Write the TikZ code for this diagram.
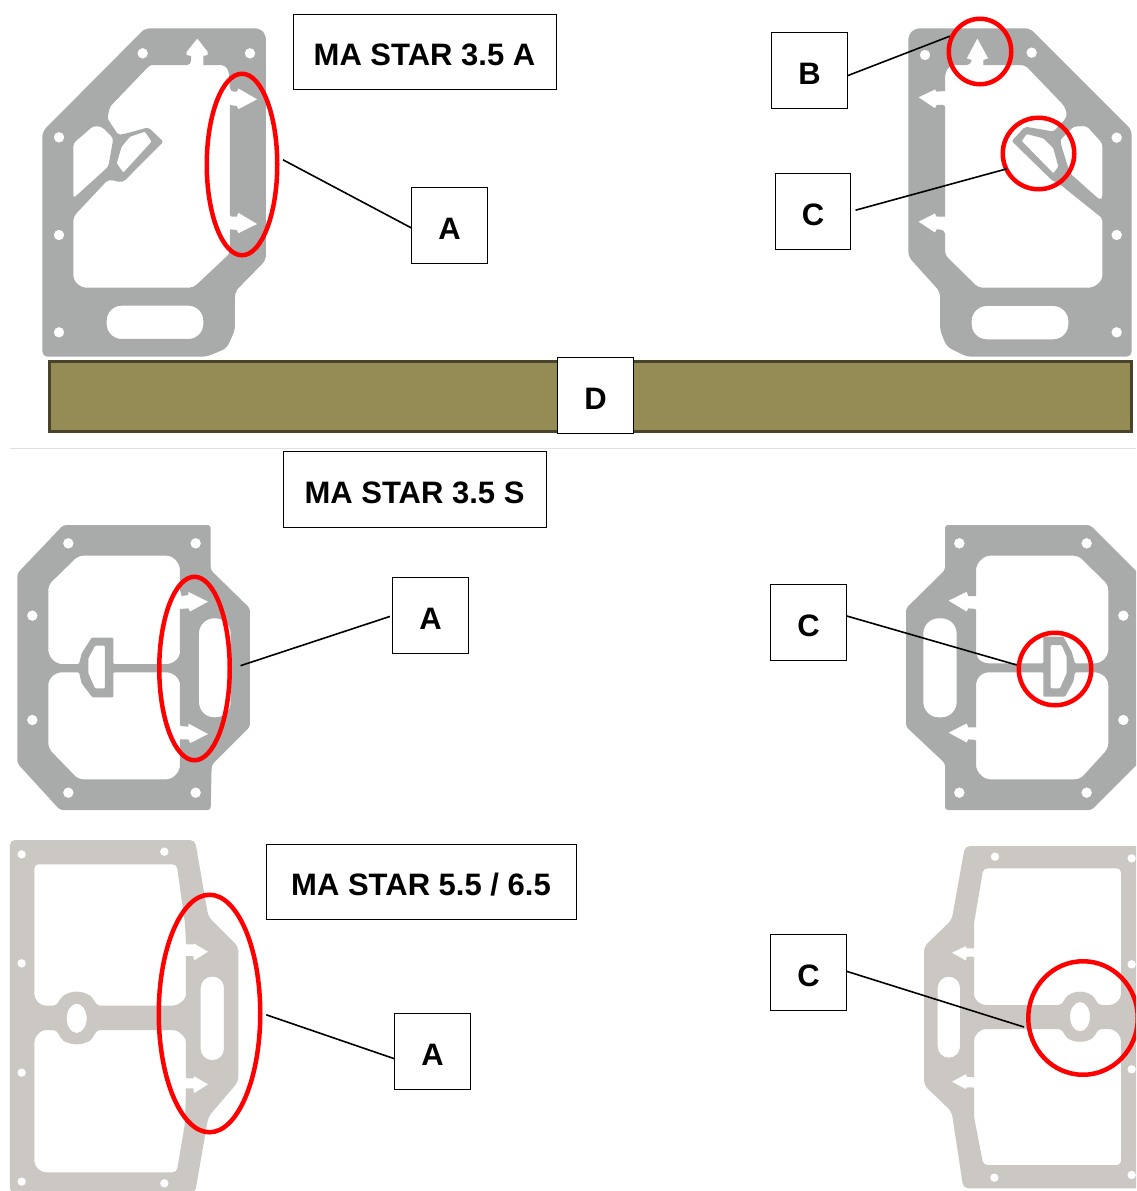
\documentclass[tikz,border=0pt]{standalone}
\usepackage{fontspec}
\setmainfont{Liberation Sans}
\usetikzlibrary{shapes.geometric}
\definecolor{gasketdark}{HTML}{A9AAAA}
\definecolor{gasketlight}{HTML}{CBC7C2}
\definecolor{barfill}{HTML}{958B54}
\definecolor{barline}{HTML}{48432A}
\newcommand{\lbl}[1]{\raisebox{-13.7pt}[0pt][0pt]{#1}}
\tikzset{
  labelbox/.style={draw=black,fill=white,line width=1pt,inner sep=0pt,outer sep=0pt,
    minimum height=75.5pt,font=\fontsize{31}{31}\selectfont\bfseries,text=black},
  letterbox/.style={labelbox,minimum width=75.5pt},
  ring/.style 2 args={ellipse,draw=red,line width=4.5pt,inner sep=0pt,minimum width=#1pt,minimum height=#2pt},
  link/.style={draw=black,line width=1.6pt},
  gasket/.style={fill=#1,even odd rule,draw=none},
}
\begin{document}
\begin{tikzpicture}[x=1pt,y=-1pt]
\useasboundingbox (0,0) rectangle (1136,1191);
\clip (0,0) rectangle (1136,1191);
\fill[white] (0,0) rectangle (1136,1191);

% gasket 1: top left
\begin{scope}[shift={(30,20)},scale=1/3]
\path[gasket=gasketdark]
  (338,100) circle[radius=16] (660,100) circle[radius=16] (87,352) circle[radius=16]
  (87,645) circle[radius=16] (87,937) circle[radius=16]
  [rounded corners=5pt]
  (345,25) -- (690,25) -- (708,45) -- (708,720) -- (615,815) -- (615,930) -- (590,985) -- (530,1010)
  -- (37,1010) -- (37,335) -- cycle
  [rounded corners=4pt]
  (360,135) -- (483,135) [sharp corners] -- (483,108) -- (470,105) -- (470,95) -- (502,55) -- (533,95) -- (533,105)
  -- (520,108) -- (520,135) [rounded corners=4pt] -- (585,135) -- (597,155) -- (600,215) [sharp corners] -- (620,215) -- (625,205)
  -- (682,238) -- (625,268) -- (620,258) -- (600,255) [rounded corners=2pt] -- (600,590) [sharp corners] -- (620,590) -- (625,578)
  -- (682,612) -- (625,640) -- (620,630) -- (600,628) [rounded corners=4pt] -- (600,700) -- (490,803) -- (155,803)
  -- (130,780) -- (130,590) -- (235,478) -- (278,488) [rounded corners=2pt] -- (400,365) -- (355,322) -- (290,340)
  -- (265,345) -- (232,295) -- (240,260) -- cycle
  [rounded corners=3pt]
  (130,370) -- (190,318) -- (215,320) -- (250,355) -- (235,440) -- (130,535) -- cycle
  [rounded corners=1pt]
  (345,335) -- (365,365) -- (280,458) -- (260,430) -- (275,380) -- (300,350) -- cycle
  [rounded corners=15pt]
  (230,857) rectangle (520,957);
\end{scope}

% gasket 2: top right
\begin{scope}[shift={(890,10)},scale=1/3]
\path[gasket=gasketdark]
  (105,135) circle[radius=16] (425,128) circle[radius=16] (680,383) circle[radius=16]
  (680,675) circle[radius=16] (680,967) circle[radius=16]
  [rounded corners=5pt]
  (75,55) -- (420,55) -- (725,360) -- (725,1040) -- (230,1040) -- (170,1010) -- (150,960) -- (150,845)
  -- (55,740) -- (55,75) -- cycle
  [rounded corners=4pt]
  (165,190) -- (180,165) -- (242,165) [sharp corners] -- (245,150) -- (230,145) -- (262,85) -- (295,145) -- (280,150)
  -- (280,165) [rounded corners=4pt] -- (405,165) -- (525,290) -- (532,320) [rounded corners=2pt] -- (490,365) -- (465,360) -- (405,350)
  -- (365,393) -- (490,515) -- (500,515) -- (637,625) [rounded corners=4pt] -- (637,810) -- (610,833) -- (265,833)
  -- (165,735) -- (165,660) [sharp corners] -- (140,658) -- (135,668) -- (85,635) -- (135,610) -- (140,620) -- (165,620)
  [rounded corners=2pt] -- (165,285) [sharp corners] -- (140,285) -- (135,295) -- (85,262) -- (135,238) -- (140,245) -- (165,243) [rounded corners=4pt] -- cycle
  [rounded corners=3pt]
  (550,350) -- (590,348) -- (637,400) -- (637,565) -- (630,570) -- (540,490) -- (515,410) -- (510,390) -- cycle
  [rounded corners=1pt]
  (395,393) -- (410,372) -- (460,385) -- (490,415) -- (505,470) -- (490,490) -- cycle
  [rounded corners=15pt]
  (245,888) rectangle (535,988);
\end{scope}

% gasket 3: middle left
\begin{scope}[shift={(0,510)},scale=1/3]
\path[gasket=gasketdark]
  (205,100) circle[radius=16] (587,100) circle[radius=16] (97,317) circle[radius=16]
  (97,630) circle[radius=16] (205,848) circle[radius=16] (587,848) circle[radius=16]
  [rounded corners=3pt]
  (190,45) -- (632,45) -- (632,180) -- (750,295) -- (750,650) -- (635,765) -- (632,900) -- (180,900)
  -- (52,760) -- (52,190) -- cycle
  [rounded corners=5pt]
  (235,137) -- (515,137) -- (540,165) [rounded corners=1pt] -- (540,240) [sharp corners] -- (545,258) -- (565,255) -- (565,245) -- (625,275)
  -- (570,305) -- (565,295) -- (540,297) [rounded corners=5pt] -- (540,440) -- (515,462) [rounded corners=1pt] -- (340,462) -- (340,383)
  -- (275,383) -- (245,430) -- (237,462) [rounded corners=5pt] -- (170,462) -- (145,435) -- (145,225) -- cycle
  (170,487) [rounded corners=1pt] -- (237,487) -- (245,520) -- (277,562) -- (340,562) -- (340,487) [rounded corners=5pt] -- (515,487) -- (540,510)
  [rounded corners=1pt] -- (540,648) [sharp corners] -- (565,650) -- (565,640) -- (625,672) -- (570,700) -- (565,688) -- (540,688) [rounded corners=5pt] -- (540,780)
  -- (515,808) -- (235,808) -- (145,715) -- (145,510) -- cycle
  [rounded corners=1pt]
  (315,407) -- (285,407) -- (265,445) -- (265,490) -- (285,535) -- (315,535) -- cycle
  [rounded corners=15pt]
  (597,325) rectangle (692,622);
\end{scope}

% gasket 4: middle right
\begin{scope}[shift={(890,510)},scale=1/3]
\path[gasket=gasketdark]
  (208,100) circle[radius=16] (590,100) circle[radius=16] (700,317) circle[radius=16]
  (700,630) circle[radius=16] (208,848) circle[radius=16] (590,848) circle[radius=16]
  [rounded corners=3pt]
  (165,45) -- (600,45) -- (745,190) -- (745,760) -- (605,900) -- (165,900) -- (165,760) -- (48,650)
  -- (48,295) -- (165,180) -- cycle
  [rounded corners=5pt]
  (258,165) -- (285,137) -- (565,137) -- (655,225) -- (655,435) -- (630,460) [rounded corners=1pt] -- (555,460) -- (545,425)
  -- (520,380) -- (460,380) -- (460,460) [rounded corners=5pt] -- (280,460) -- (258,440) [rounded corners=1pt] -- (258,297) [sharp corners] -- (235,295) -- (230,305)
  -- (175,272) -- (230,245) -- (235,258) -- (258,258) [rounded corners=5pt] -- cycle
  (280,487) [rounded corners=1pt] -- (460,487) -- (460,560) -- (525,560) -- (550,515) -- (555,487) [rounded corners=5pt] -- (630,487) -- (655,510)
  -- (655,715) -- (570,808) -- (285,808) -- (258,780) [rounded corners=1pt] -- (258,690) [sharp corners] -- (235,688) -- (230,698) -- (175,668)
  -- (230,640) -- (235,652) -- (258,652) [rounded corners=5pt] -- (258,510) -- cycle
  [rounded corners=1pt]
  (482,405) -- (515,405) -- (530,440) -- (530,490) -- (510,535) -- (482,535) -- cycle
  [rounded corners=15pt]
  (100,325) rectangle (200,622);
\end{scope}

% gasket 5: bottom left
\begin{scope}[shift={(0,830)},scale=1/3]
\path[gasket=gasketlight]
  (65,73) circle[radius=13] (493,65) circle[radius=13] (65,400) circle[radius=13]
  (65,728) circle[radius=13] (65,1055) circle[radius=13] (493,1060) circle[radius=13]
  (230,565) ellipse[x radius=30,y radius=44]
  [rounded corners=5pt]
  (30,30) -- (585,30) -- (625,260) -- (715,350) -- (715,755) -- (625,860) -- (585,1090) -- (30,1090) -- cycle
  [rounded corners=4pt]
  (103,103) -- (530,103) -- (555,280) [rounded corners=1pt] -- (558,343) [sharp corners] -- (580,343) -- (582,340) -- (625,365) -- (582,392)
  -- (580,378) -- (558,378) [rounded corners=4pt] -- (558,505) -- (530,527) [sharp corners] -- (300,527)
  .. controls (285,527) and (283,505) .. (270,497) .. controls (258,489) and (245,485) .. (230,485)
  .. controls (215,485) and (202,489) .. (190,497) .. controls (177,505) and (175,527) .. (160,527)
  [rounded corners=4pt] -- (125,527) -- (103,505) -- cycle
  (125,600) [sharp corners] -- (160,600) .. controls (175,600) and (177,622) .. (190,632)
  .. controls (202,639) and (215,643) .. (230,643) .. controls (245,643) and (258,639) .. (270,632)
  .. controls (283,622) and (285,600) .. (300,600) [rounded corners=4pt] -- (530,600) -- (558,625) [rounded corners=1pt] -- (558,745) [sharp corners] -- (580,745)
  -- (582,738) -- (625,763) -- (582,790) -- (580,775) -- (558,775) [rounded corners=4pt] -- (555,880) -- (530,1027)
  -- (125,1027) -- (103,1005) -- (103,625) -- cycle
  [rounded corners=11pt]
  (602,440) rectangle (672,690);
\end{scope}

% gasket 6: bottom right
\begin{scope}[shift={(900,830)},scale=1/3]
\path[gasket=gasketlight]
  (285,80) circle[radius=13] (695,85) circle[radius=13] (695,403) circle[radius=13]
  (695,718) circle[radius=13] (695,1035) circle[radius=13] (283,1043) circle[radius=13]
  (540,560) ellipse[x radius=30,y radius=44]
  [rounded corners=5pt]
  (195,48) -- (730,48) -- (730,1075) -- (190,1075) -- (155,845) -- (72,765) -- (72,350) -- (155,270) -- cycle
  [rounded corners=4pt]
  (250,115) -- (663,115) -- (663,505) -- (640,525) [sharp corners] -- (605,525)
  .. controls (590,525) and (588,505) .. (577,497) .. controls (565,489) and (555,485) .. (540,485)
  .. controls (525,485) and (515,489) .. (503,497) .. controls (492,505) and (490,525) .. (475,525)
  [rounded corners=4pt] -- (245,525) -- (222,505) [rounded corners=1pt] -- (222,380) [sharp corners] -- (200,380) -- (198,392) -- (155,368) -- (198,348) -- (200,355)
  -- (222,355) [rounded corners=4pt] -- (222,280) -- cycle
  (245,597) [sharp corners] -- (475,597) .. controls (490,597) and (492,617) .. (503,625)
  .. controls (515,632) and (525,635) .. (540,635) .. controls (555,635) and (565,632) .. (577,625)
  .. controls (588,617) and (590,597) .. (605,597) [rounded corners=4pt] -- (640,597) -- (663,620) -- (663,1005) -- (250,1005)
  -- (222,860) [rounded corners=1pt] -- (222,772) [sharp corners] -- (200,772) -- (198,778) -- (155,755) -- (198,732) -- (200,740) -- (222,742)
  [rounded corners=4pt] -- (222,620) -- cycle
  [rounded corners=11pt]
  (113,440) rectangle (180,683);
\end{scope}

% olive bar and divider
\draw[fill=barfill,draw=barline,line width=3pt] (49.5,361) rectangle (1131.5,431);
\draw[draw=black!12,line width=0.8pt] (10,448) -- (1136,448);

% red rings
\node[ring={70.5}{181.5}] (e1) at (242,164.5) {};
\node[ring={62.5}{65.5}] (e2) at (980,51.5) {};
\node[ring={71.5}{71.5}] (e3) at (1038.5,153.5) {};
\node[ring={70.5}{183.5}] (e4) at (194.5,668.5) {};
\node[ring={72.5}{72.5}] (e5) at (1055,669) {};
\node[ring={101.5}{237.5}] (e6) at (209.5,1013.5) {};
\node[ring={109.5}{113.5}] (e7) at (1083,1018) {};

% label boxes
\node[labelbox,minimum width=263pt] (t1) at (424.5,52) {\lbl{MA STAR 3.5 A}};
\node[labelbox,minimum width=263pt] (t2) at (414.5,489.5) {\lbl{MA STAR 3.5 S}};
\node[labelbox,minimum width=310pt] (t3) at (421,882) {\lbl{MA STAR 5.5 / 6.5}};
\node[letterbox] (a1) at (449.5,225.5) {\lbl{A}};
\node[letterbox] (b1) at (809.5,70.5) {\lbl{B}};
\node[letterbox] (c1) at (813,211.5) {\lbl{C}};
\node[letterbox] (d1) at (595.5,395.5) {\lbl{D}};
\node[letterbox] (a2) at (430.5,615.5) {\lbl{A}};
\node[letterbox] (c2) at (808.5,622.5) {\lbl{C}};
\node[letterbox] (a3) at (432.5,1051.5) {\lbl{A}};
\node[letterbox] (c3) at (808.5,972.5) {\lbl{C}};

% connectors
\draw[link,shorten <=4pt] (e1.10) -- (a1.184);
\draw[link] (b1.-8) -- (e2.153);
\draw[link,shorten <=5pt,shorten >=-3pt] (c1.0) -- (e3.205);
\draw[link,shorten <=9pt,shorten >=3pt] (e4.0) -- (a2.180);
\draw[link] (c2.10) -- (e5.174);
\draw[link,shorten <=4pt] (e6.0) -- (a3.191);
\draw[link,shorten >=3pt] (c3.2) -- (e7.190);
\end{tikzpicture}
\end{document}
